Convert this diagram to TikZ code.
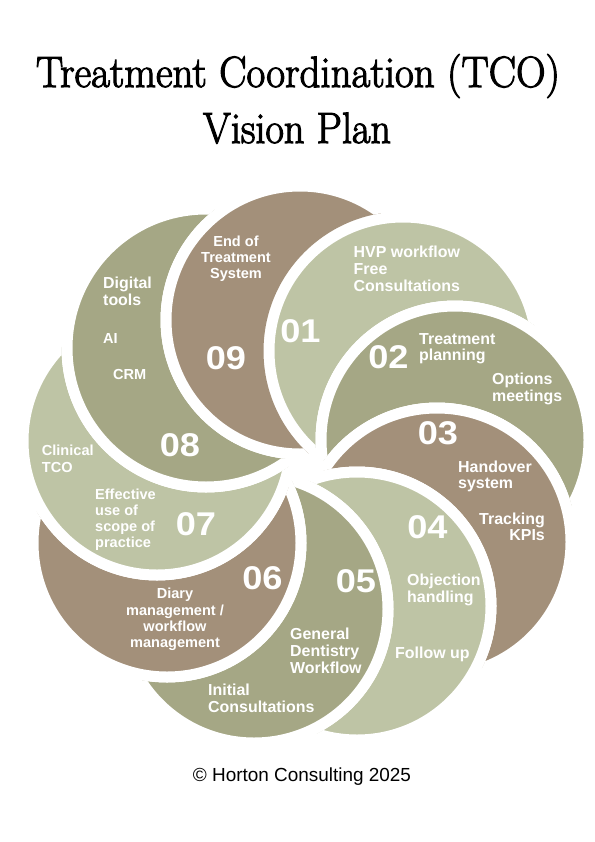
\documentclass[tikz,border=0pt]{standalone}
\usepackage{fontspec}
\usepackage{graphicx}
\newfontfamily\lsans{Liberation Sans}
\newfontfamily\tfont[FakeBold=2.5]{Latin Modern Roman}
\definecolor{plight}{RGB}{190,196,165}
\definecolor{polive}{RGB}{165,167,133}
\definecolor{pbrown}{RGB}{163,144,122}
\newcommand{\pn}[1]{\scalebox{1.1}[1]{#1}}
% #1 centre, #2 radius, #3 next centre, #4 next radius + half stroke, #5 colour
\newcommand{\petal}[5]{%
  \begin{scope}
    \clip (#3) circle (#4) (0,0) -- (0,842) -- (595,842) -- (595,0) -- cycle;
    \fill[#5, draw=white, line width=11bp] (#1) circle (#2);
  \end{scope}}
\begin{document}
\begin{tikzpicture}[x=1bp,y=-1bp,
  lbl/.style={text=white, inner sep=0pt, font=\lsans\bfseries\fontsize{16}{16.8}\selectfont, align=left},
  lbls/.style={text=white, inner sep=0pt, font=\lsans\bfseries\fontsize{14.6}{16.4}\selectfont, align=left},
  pnum/.style={text=white, inner sep=0pt, font=\lsans\bfseries\fontsize{33}{33}\selectfont}]
\useasboundingbox (0,0) rectangle (595,842);
\fill[white] (0,0) rectangle (595,842);
% petal circle centres
\coordinate (c1) at (403,351);
\coordinate (c2) at (455,440);
\coordinate (c3) at (437,542);
\coordinate (c4) at (357,606);
\coordinate (c5) at (254,609);
\coordinate (c6) at (167,543);
\coordinate (c7) at (157,441);
\coordinate (c8) at (206,348);
\coordinate (c9) at (300,320);
\petal{c1}{134}{c2}{139.5}{plight}
\petal{c2}{134}{c3}{139.5}{polive}
\petal{c3}{134}{c4}{139.5}{pbrown}
\petal{c4}{134}{c5}{139.5}{plight}
\petal{c5}{134}{c6}{139.5}{polive}
\petal{c6}{134}{c7}{139.5}{pbrown}
\petal{c7}{134}{c8}{144.5}{plight}
\petal{c8}{139}{c9}{139.5}{polive}
\petal{c9}{134}{c1}{139.5}{pbrown}
% numbers
\node[pnum] (n01) at (300.5,331.5) {\pn{01}};
\node[pnum] (n02) at (388.5,357) {\pn{02}};
\node[pnum] (n03) at (438,433.5) {\pn{03}};
\node[pnum] (n04) at (427.5,527.5) {\pn{04}};
\node[pnum] (n05) at (356,581) {\pn{05}};
\node[pnum] (n06) at (262.5,578.5) {\pn{06}};
\node[pnum] (n07) at (196,524.5) {\pn{07}};
\node[pnum] (n08) at (180,445) {\pn{08}};
\node[pnum] (n09) at (226,358.5) {\pn{09}};
% labels
\node[lbl, anchor=north west] (t01) at (353.5,246) {HVP workflow\\Free\\Consultations};
\node[lbl, anchor=north west] (t02a) at (419,333) {Treatment\\planning};
\node[lbl, anchor=north west] (t02b) at (492,373) {Options\\meetings};
\node[lbl, anchor=north west] (t03a) at (458,460.5) {Handover\\system};
\node[lbl, anchor=north east, align=right] (t03b) at (545,512.5) {Tracking\\KPIs};
\node[lbl, anchor=north west] (t04a) at (407,574) {Objection\\handling};
\node[lbl, anchor=north west] (t04b) at (395,647) {Follow up};
\node[lbl, anchor=north west] (t05a) at (290,628) {General\\Dentistry\\Workflow};
\node[lbl, anchor=north west] (t05b) at (208,684) {Initial\\Consultations};
\node[lbls, anchor=north, align=center] (t06) at (175,588) {Diary\\management /\\workflow\\management};
\node[lbls, anchor=north west] (t07a) at (41.7,445) {Clinical\\TCO};
\node[lbls, anchor=north west, font=\lsans\bfseries\fontsize{14.6}{16}\selectfont] (t07b) at (95,489) {Effective\\use of\\scope of\\practice};
\node[lbl, anchor=north west] (t08a) at (103,277) {Digital\\tools};
\node[lbls, anchor=north west] (t08b) at (103,333) {AI};
\node[lbls, anchor=north west] (t08c) at (113,369) {CRM};
\node[lbls, anchor=north, align=center] (t09) at (236,235.5) {End of\\Treatment\\System};
% title
\node[anchor=base, inner sep=0pt] (title1) at (298,87) {\resizebox{524bp}{\height}{\tfont\fontsize{44}{44}\selectfont Treatment Coordination (TCO)}};
\node[anchor=base, inner sep=0pt] (title2) at (297,143) {\resizebox{188bp}{\height}{\tfont\fontsize{44}{44}\selectfont Vision Plan}};
% footer
\node[anchor=base, inner sep=0pt, font=\lsans\fontsize{19}{19}\selectfont] (foot) at (302,781) {\textcopyright{} Horton Consulting 2025};
\end{tikzpicture}
\end{document}
